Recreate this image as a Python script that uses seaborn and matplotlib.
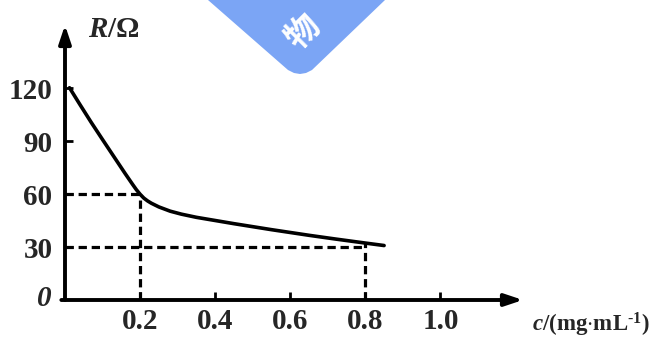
import matplotlib
matplotlib.use("Agg")
import matplotlib.pyplot as plt
import seaborn as sns
import pandas as pd
from matplotlib.patches import Polygon

# ---- data ----
conc = [0.012, 0.04, 0.07, 0.10, 0.13, 0.16, 0.18, 0.19, 0.20, 0.21, 0.22, 0.23,
        0.25, 0.28, 0.31, 0.35, 0.40, 0.45, 0.55, 0.65, 0.72, 0.80, 0.85]
resist = [120.4, 110.8, 100.7, 91.0, 81.4, 71.8, 65.6, 62.6, 60.0, 57.8, 56.2, 54.9,
          52.8, 50.4, 48.7, 46.9, 45.1, 43.3, 39.9, 36.7, 34.6, 32.3, 30.9]
x_ticks = [0.2, 0.4, 0.6, 0.8, 1.0]
x_tick_labels = ["0.2", "0.4", "0.6", "0.8", "1.0"]
y_ticks = [30, 60, 90, 120]
y_tick_labels = ["30", "60", "90", "120"]
guide_c = [0.2, 0.8]
guide_R = [60, 30]
guide_curve_R_at_08 = 32.3

sns.set_theme(style="white")
plt.rcParams["font.family"] = ["Liberation Serif", "DejaVu Serif"]
plt.rcParams["mathtext.fontset"] = "custom"
plt.rcParams["mathtext.rm"] = "Liberation Serif:bold"
plt.rcParams["mathtext.it"] = "Liberation Serif:italic:bold"
plt.rcParams["mathtext.bf"] = "Liberation Serif:bold"

W, H = 649, 343
fig = plt.figure(figsize=(W / 100, H / 100), dpi=100)
fig.patch.set_facecolor("white")

# watermark (blue rotated tag, partially outside the frame)
wm = [(208, -10), (208, 0), (288, 70), (294, 73), (300, 74), (306, 73), (312, 70),
      (385, 0), (385, -10)]
fig.add_artist(Polygon([(x, H - y) for x, y in wm], closed=True, transform=None,
                       facecolor="#7ba5f5", edgecolor="none", zorder=0))
fig.text(303 / W, 1 - 32 / H, "物", rotation=45, ha="center", va="center",
         color="white", fontsize=24, fontweight="bold",
         family=["Noto Sans CJK SC", "DejaVu Sans"], zorder=1)

x0, x1, ytop, ybot = 65, 523, 25, 300
ax = fig.add_axes([x0 / W, (H - ybot) / H, (x1 - x0) / W, (ybot - ytop) / H])
ax.set_facecolor("none")

df = pd.DataFrame({"c": conc, "R": resist})
sns.lineplot(data=df, x="c", y="R", ax=ax, color="black", lw=2.6,
             sort=False, estimator=None)
ax.set_xlim(0, 1.22)
ax.set_ylim(0, 156)
ax.set_xlabel("")
ax.set_ylabel("")

dash = dict(color="black", lw=2.3, ls=(0, (2.6, 1.5)))
ax.plot([0, guide_c[0]], [guide_R[0], guide_R[0]], **dash)
ax.plot([0, guide_c[1]], [guide_R[1], guide_R[1]], **dash)
ax.plot([guide_c[0], guide_c[0]], [0, guide_R[0]], **dash)
ax.plot([guide_c[1], guide_c[1]], [0, guide_curve_R_at_08], **dash)

for s in ax.spines.values():
    s.set_visible(False)

arrow = dict(arrowstyle="-|>,head_length=0.9,head_width=0.3",
             color="black", lw=2.8, shrinkA=0, shrinkB=0)
ax.annotate("", xy=(1.0, 0), xycoords="axes fraction", xytext=(-0.008, 0),
            arrowprops=arrow)
ax.annotate("", xy=(0, 1.0), xycoords="axes fraction", xytext=(0, 0),
            arrowprops=arrow)

ax.set_xticks(x_ticks)
ax.set_xticklabels(x_tick_labels)
ax.set_yticks(y_ticks)
ax.set_yticklabels(y_tick_labels)
ax.tick_params(axis="both", direction="in", length=6, width=2, color="black",
               labelsize=21, bottom=True, left=True)
ax.tick_params(axis="x", pad=6)
ax.tick_params(axis="y", pad=9)
for lab in ax.get_xticklabels() + ax.get_yticklabels():
    lab.set_fontweight("bold")
ax.grid(False)

ax.text(-0.035, 1, "0", transform=ax.transData, ha="right", va="center",
        fontsize=21, style="italic", fontweight="bold")
ax.text(0.05, 0.985, r"$R$/Ω", transform=ax.transAxes,
        ha="left", va="center", fontsize=21, fontweight="bold")
fig.text(532 / W, 1 - 325 / H, r"$c$/(mg$\cdot$mL$^{\text{-}1}$)", ha="left",
         va="center", fontsize=16.5, fontweight="bold")

fig.savefig("out.png", dpi=100)
